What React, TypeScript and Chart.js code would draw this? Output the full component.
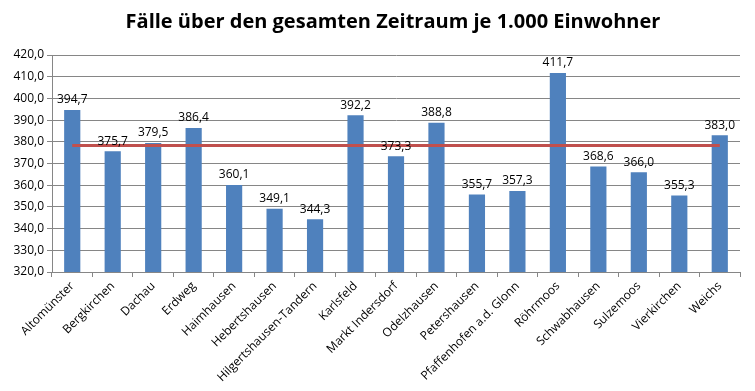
import React, { useEffect, useRef } from "react";
import { Chart, registerables } from "chart.js";

Chart.register(...registerables);

const categories = [
  "Altomünster", "Bergkirchen", "Dachau", "Erdweg", "Haimhausen", "Hebertshausen",
  "Hilgertshausen-Tandern", "Karlsfeld", "Markt Indersdorf", "Odelzhausen", "Petershausen",
  "Pfaffenhofen a.d. Glonn", "Röhrmoos", "Schwabhausen", "Sulzemoos", "Vierkirchen", "Weichs",
];
const values = [394.7, 375.7, 379.5, 386.4, 360.1, 349.1, 344.3, 392.2, 373.3, 388.8, 355.7, 357.3, 411.7, 368.6, 366.0, 355.3, 383.0];
const referenceLine = [378.3, 378.3, 378.3, 378.3, 378.3, 378.3, 378.3, 378.3, 378.3, 378.3, 378.3, 378.3, 378.3, 378.3, 378.3, 378.3, 378.3];
const titleText = "Fälle über den gesamten Zeitraum je 1.000 Einwohner";

const fmt = (v: number) => v.toFixed(1).replace(".", ",");
const FONT = "'Open Sans', 'Noto Sans', sans-serif";

const labelPlugin = {
  id: "barLabels",
  afterDatasetsDraw(chart: any) {
    const meta = chart.getDatasetMeta(1);
    const ctx = chart.ctx;
    ctx.save();
    ctx.font = `12px ${FONT}`;
    ctx.fillStyle = "#000";
    ctx.textAlign = "center";
    ctx.textBaseline = "bottom";
    meta.data.forEach((bar: any, i: number) => {
      ctx.fillText(fmt(values[i]), bar.x, bar.y - 4);
    });
    // title, centred as in the reference
    ctx.font = `bold 20px ${FONT}`;
    ctx.textBaseline = "alphabetic";
    ctx.fillText(titleText, 393, 28);
    ctx.restore();
  },
};

export default function App() {
  const ref = useRef<HTMLCanvasElement>(null);
  useEffect(() => {
    const chart = new Chart(ref.current!, {
      type: "bar",
      data: {
        labels: categories,
        datasets: [
          {
            type: "line",
            data: referenceLine,
            borderColor: "#C0504D",
            borderWidth: 3,
            pointRadius: 0,
            order: 0,
          } as any,
          {
            type: "bar",
            data: values,
            backgroundColor: "#4F81BD",
            categoryPercentage: 1,
            barPercentage: 0.4,
            order: 1,
          },
        ],
      },
      options: {
        responsive: false,
        animation: false,
        layout: { padding: { left: 0, right: 15, top: 0, bottom: 0 } },
        plugins: {
          legend: { display: false },
          tooltip: { enabled: false },
          title: {
            display: true,
            text: titleText,
            color: "rgba(0,0,0,0)",
            font: { family: FONT, size: 20, weight: "bold" },
            padding: { top: 8, bottom: 23 },
          },
        },
        scales: {
          x: {
            offset: true,
            afterFit: (s: any) => { s.height = 119; },
            grid: { display: true, drawOnChartArea: false, offset: true, tickLength: 5, color: "#868686" },
            border: { color: "#868686" },
            ticks: {
              color: "#000",
              font: { family: FONT, size: 12 },
              maxRotation: 45,
              minRotation: 45,
              autoSkip: false,
              padding: 2,
            },
          },
          y: {
            min: 320,
            max: 420,
            afterFit: (s: any) => { s.width = 52; },
            grid: { color: "#868686", tickLength: 5 },
            border: { color: "#868686" },
            ticks: {
              stepSize: 10,
              color: "#000",
              font: { family: FONT, size: 12 },
              padding: 3,
              callback: (v: any) => fmt(Number(v)),
            },
          },
        },
      },
      plugins: [labelPlugin],
    });
    return () => chart.destroy();
  }, []);
  return (
    <div style={{ position: "absolute", left: 0, top: 0, width: 755, height: 391 }}>
      <canvas ref={ref} width={755} height={391} />
    </div>
  );
}
